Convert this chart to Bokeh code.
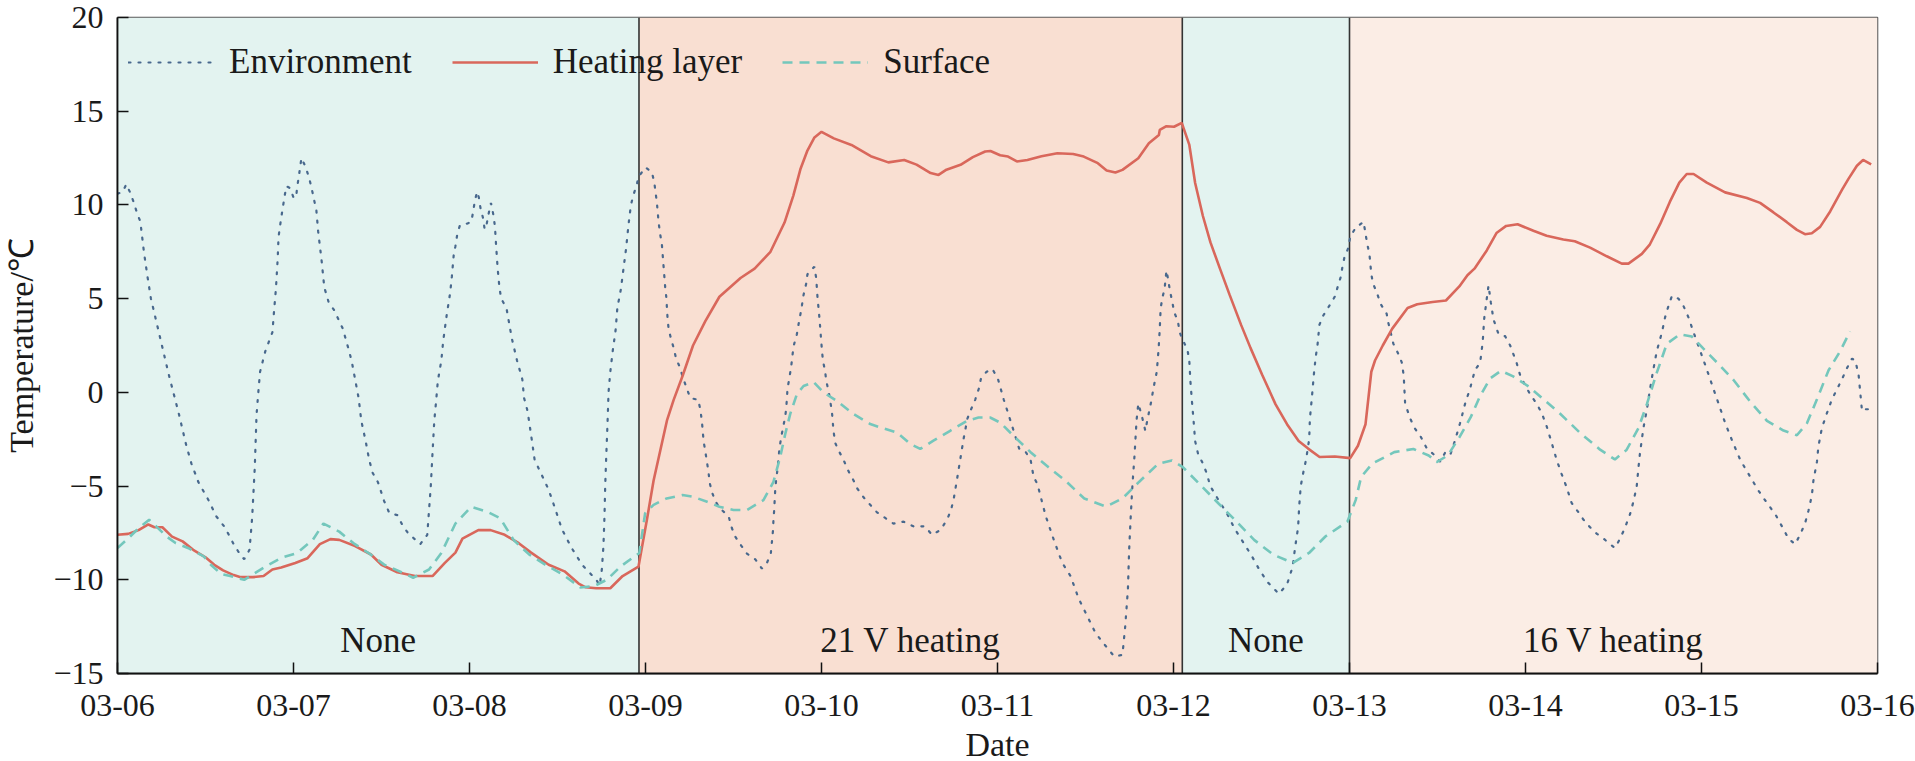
from bokeh.plotting import figure
from bokeh.models import ColumnDataSource, Legend, LegendItem, FixedTicker, Range1d
from bokeh.core.properties import value
from bokeh.embed import file_html
from bokeh.resources import INLINE

# ---------------- data (days since 03-06 00:00) ----------------
env_day = [0.00, 0.03, 0.05, 0.07, 0.09, 0.11, 0.13, 0.15, 0.17, 0.19, 0.21, 0.25, 0.29, 0.32, 0.35, 0.39,
           0.42, 0.46, 0.49, 0.52, 0.56, 0.61, 0.66, 0.70, 0.72, 0.75, 0.765, 0.78, 0.79, 0.80, 0.81, 0.84,
           0.88, 0.89, 0.90, 0.91, 0.915, 0.93, 0.95, 0.96, 0.98, 1.00, 1.015, 1.02, 1.03, 1.045, 1.07, 1.09,
           1.105, 1.13, 1.14, 1.16, 1.175, 1.20, 1.23, 1.28, 1.31, 1.33, 1.35, 1.37, 1.385, 1.41, 1.43, 1.45,
           1.48, 1.515, 1.545, 1.59, 1.62, 1.65, 1.72, 1.76, 1.77, 1.78, 1.79, 1.80, 1.81, 1.82, 1.84, 1.85,
           1.87, 1.89, 1.90, 1.91, 1.92, 1.93, 1.945, 1.96, 2.01, 2.02, 2.03, 2.043, 2.053, 2.063, 2.077, 2.086,
           2.098, 2.108, 2.122, 2.127, 2.137, 2.145, 2.15, 2.16, 2.17, 2.18, 2.21, 2.24, 2.27, 2.30, 2.31, 2.33,
           2.355, 2.37, 2.40, 2.45, 2.49, 2.525, 2.58, 2.64, 2.68, 2.72, 2.74, 2.752, 2.761, 2.767, 2.771, 2.777,
           2.784, 2.79, 2.80, 2.815, 2.83, 2.84, 2.86, 2.875, 2.89, 2.903, 2.917, 2.932, 2.951, 2.96, 3.00, 3.036,
           3.05, 3.065, 3.074, 3.084, 3.093, 3.102, 3.112, 3.118, 3.125, 3.131, 3.144, 3.159, 3.174, 3.197, 3.212, 3.235,
           3.254, 3.30, 3.311, 3.32, 3.33, 3.339, 3.349, 3.358, 3.364, 3.377, 3.396, 3.424, 3.472, 3.491, 3.51, 3.538,
           3.576, 3.623, 3.661, 3.69, 3.712, 3.718, 3.724, 3.727, 3.731, 3.737, 3.742, 3.75, 3.761, 3.771, 3.781, 3.794,
           3.80, 3.807, 3.818, 3.828, 3.841, 3.86, 3.869, 3.879, 3.889, 3.898, 3.913, 3.92, 3.959, 3.97, 3.977, 3.983,
           3.989, 3.997, 4.002, 4.008, 4.021, 4.027, 4.04, 4.05, 4.059, 4.068, 4.078, 4.097, 4.125, 4.153, 4.182, 4.201,
           4.239, 4.277, 4.315, 4.362, 4.409, 4.466, 4.523, 4.589, 4.627, 4.675, 4.713, 4.735, 4.75, 4.769, 4.788, 4.807,
           4.829, 4.85, 4.873, 4.894, 4.905, 4.938, 4.971, 5.003, 5.036, 5.053, 5.09, 5.123, 5.155, 5.188, 5.205, 5.227,
           5.274, 5.321, 5.368, 5.415, 5.461, 5.508, 5.555, 5.586, 5.664, 5.71, 5.726, 5.741, 5.748, 5.757, 5.767, 5.779,
           5.79, 5.80, 5.82, 5.84, 5.851, 5.862, 5.873, 5.884, 5.894, 5.905, 5.916, 5.922, 5.927, 5.938, 5.949, 5.96,
           5.97, 5.981, 5.992, 6.003, 6.025, 6.035, 6.057, 6.079, 6.09, 6.096, 6.105, 6.114, 6.123, 6.14, 6.167, 6.188,
           6.209, 6.256, 6.303, 6.349, 6.396, 6.443, 6.49, 6.537, 6.599, 6.645, 6.677, 6.692, 6.708, 6.714, 6.723, 6.739,
           6.753, 6.771, 6.775, 6.786, 6.797, 6.808, 6.818, 6.829, 6.851, 6.884, 6.916, 6.932, 6.95, 6.96, 6.971, 6.993,
           7.004, 7.036, 7.08, 7.101, 7.113, 7.124, 7.134, 7.156, 7.178, 7.211, 7.221, 7.249, 7.275, 7.297, 7.308, 7.316,
           7.345, 7.373, 7.401, 7.44, 7.477, 7.515, 7.544, 7.572, 7.60, 7.628, 7.657, 7.685, 7.713, 7.742, 7.757, 7.765,
           7.777, 7.79, 7.803, 7.818, 7.847, 7.884, 7.913, 7.95, 7.97, 7.997, 8.026, 8.063, 8.092, 8.12, 8.149, 8.177,
           8.205, 8.235, 8.262, 8.301, 8.33, 8.367, 8.406, 8.443, 8.481, 8.508, 8.538, 8.566, 8.594, 8.614, 8.632, 8.642,
           8.651, 8.67, 8.69, 8.707, 8.726, 8.746, 8.775, 8.793, 8.812, 8.832, 8.869, 8.898, 8.926, 8.955, 8.993, 9.031,
           9.069, 9.097, 9.135, 9.173, 9.22, 9.267, 9.324, 9.372, 9.419, 9.466, 9.494, 9.532, 9.56, 9.588, 9.608, 9.627,
           9.636, 9.656, 9.664, 9.684, 9.713, 9.74, 9.769, 9.798, 9.827, 9.855, 9.874, 9.893, 9.912, 9.931, 9.949]
env_val = [10.6, 10.7, 11.1, 10.7, 10.2, 9.6, 9.1, 7.5, 6.2, 5.0, 4.2, 2.6, 1.0, -0.1, -1.2, -2.8,
           -3.8, -4.8, -5.3, -5.8, -6.6, -7.2, -8.1, -8.7, -8.9, -8.4, -6.7, -4.0, -1.2, 0.0, 1.1, 2.2,
           3.2, 4.4, 5.5, 7.1, 8.3, 9.3, 10.5, 11.0, 10.9, 10.4, 10.4, 10.9, 11.5, 12.5, 12.0, 11.4,
           10.8, 9.7, 8.6, 7.0, 5.6, 4.8, 4.4, 3.4, 2.4, 1.7, 0.7, -0.3, -1.5, -2.6, -3.6, -4.3,
           -4.8, -5.8, -6.45, -6.55, -7.1, -7.5, -8.1, -7.6, -6.3, -5.0, -3.2, -1.5, -0.5, 0.6, 1.7, 2.7,
           4.1, 5.3, 6.2, 7.3, 7.8, 8.4, 8.9, 8.9, 9.1, 9.6, 10.2, 10.7, 10.4, 9.8, 9.3, 8.7,
           9.0, 9.5, 10.1, 9.9, 9.4, 8.8, 8.0, 6.6, 5.6, 5.0, 4.5, 2.9, 1.7, 0.7, -0.3, -1.0,
           -2.6, -3.6, -4.2, -5.2, -6.3, -7.3, -8.3, -9.2, -9.6, -10.0, -10.3, -9.45, -8.2, -6.6, -5.0, -3.4,
           -1.7, 0.0, 1.1, 2.3, 3.3, 4.5, 5.5, 6.6, 7.7, 8.9, 10.0, 10.55, 11.1, 11.5, 12.0, 11.75,
           11.2, 10.1, 9.1, 8.4, 7.9, 6.8, 5.6, 5.1, 4.0, 3.4, 2.9, 2.4, 1.8, 1.3, 0.8, 0.2,
           -0.3, -0.4, -0.9, -1.5, -2.6, -3.1, -3.7, -4.25, -4.8, -5.3, -5.8, -6.2, -6.6, -7.25, -7.7, -8.1,
           -8.6, -8.9, -9.4, -9.1, -8.6, -8.0, -7.4, -6.8, -6.3, -5.2, -4.7, -4.1, -3.0, -2.4, -1.9, -1.3,
           -0.8, 0.2, 0.8, 1.4, 2.45, 3.1, 3.6, 4.1, 4.65, 5.2, 5.8, 6.3, 6.7, 6.1, 5.1, 4.5,
           3.9, 2.9, 2.3, 1.7, 1.1, 0.6, 0.1, -0.5, -1.0, -2.05, -2.7, -3.1, -3.6, -4.2, -4.7, -5.1,
           -5.6, -6.0, -6.4, -6.7, -7.0, -6.9, -7.15, -7.15, -7.6, -7.35, -6.8, -6.3, -5.75, -4.7, -3.6, -2.5,
           -1.4, -0.9, -0.4, 0.2, 0.7, 1.1, 1.25, 0.7, -0.4, -0.9, -2.0, -3.0, -3.1, -3.6, -4.5, -4.9,
           -6.6, -7.9, -9.1, -9.8, -11.0, -11.9, -12.8, -13.2, -14.1, -14.0, -12.45, -10.5, -8.4, -6.6, -4.9, -3.3,
           -1.5, -0.6, -1.25, -2.05, -1.5, -1.0, -0.5, 0.1, 0.6, 1.1, 2.4, 3.4, 4.5, 5.1, 5.5, 6.5,
           6.0, 5.35, 4.9, 4.3, 3.8, 3.2, 2.7, 2.3, 1.65, 0.6, -0.5, -1.5, -2.6, -3.3, -3.8, -4.3,
           -5.0, -5.75, -6.45, -7.3, -8.0, -8.7, -9.5, -10.15, -10.75, -10.25, -9.3, -8.2, -7.2, -6.1, -5.0, -4.2,
           -3.6, -2.5, -1.4, -0.3, 0.9, 1.9, 2.5, 3.6, 4.1, 4.6, 5.1, 5.6, 6.15, 6.7, 7.2, 7.7,
           8.3, 8.8, 9.1, 7.9, 7.4, 6.3, 5.8, 5.3, 4.7, 4.2, 3.7, 2.6, 2.1, 1.6, 0.9, -0.6,
           -1.4, -1.95, -2.3, -3.0, -3.3, -3.7, -3.2, -3.35, -2.55, -1.65, -0.6, 0.2, 1.2, 1.56, 2.7, 3.9,
           4.8, 5.7, 4.8, 3.9, 3.1, 3.0, 2.5, 1.56, 0.9, 0.4, -0.1, -0.6, -1.1, -1.8, -2.7, -3.6,
           -4.35, -5.1, -5.9, -6.4, -6.8, -7.2, -7.55, -7.8, -8.1, -8.3, -7.8, -7.2, -6.5, -5.8, -5.0, -4.0,
           -3.2, -1.9, -0.9, 0.15, 1.2, 2.2, 3.2, 4.0, 4.6, 5.15, 5.0, 4.6, 4.0, 3.2, 2.2, 1.2,
           0.15, -0.6, -1.65, -2.55, -3.6, -4.35, -5.25, -5.9, -6.5, -7.3, -7.8, -8.1, -7.6, -7.0, -6.3, -5.5,
           -4.7, -3.7, -2.9, -1.9, -1.1, -0.4, 0.15, 0.7, 1.3, 1.8, 1.7, 0.9, -1.0, -0.9, -0.9]

heat_day = [0.00, 0.06, 0.12, 0.175, 0.21, 0.255, 0.31, 0.37, 0.43, 0.50, 0.55, 0.60, 0.66, 0.70, 0.77, 0.83,
            0.88, 0.93, 1.01, 1.08, 1.15, 1.21, 1.26, 1.35, 1.44, 1.50, 1.59, 1.69, 1.79, 1.86, 1.92, 1.96,
            2.05, 2.12, 2.20, 2.28, 2.35, 2.45, 2.54, 2.62, 2.66, 2.72, 2.80, 2.87, 2.96, 3.008, 3.046, 3.084,
            3.122, 3.16, 3.21, 3.27, 3.34, 3.42, 3.54, 3.62, 3.71, 3.79, 3.84, 3.88, 3.92, 3.96, 4.00, 4.07,
            4.17, 4.28, 4.38, 4.47, 4.54, 4.62, 4.665, 4.71, 4.79, 4.86, 4.93, 4.96, 5.015, 5.06, 5.11, 5.17,
            5.25, 5.34, 5.43, 5.49, 5.57, 5.62, 5.67, 5.71, 5.80, 5.86, 5.917, 5.922, 5.96, 6.003, 6.047, 6.09,
            6.123, 6.167, 6.21, 6.264, 6.319, 6.384, 6.438, 6.503, 6.58, 6.645, 6.711, 6.765, 6.83, 6.917, 7.004, 7.048,
            7.091, 7.124, 7.145, 7.189, 7.243, 7.33, 7.385, 7.472, 7.548, 7.624, 7.67, 7.71, 7.78, 7.835, 7.89, 7.955,
            8.045, 8.12, 8.215, 8.28, 8.367, 8.462, 8.547, 8.585, 8.661, 8.707, 8.766, 8.82, 8.874, 8.916, 8.955, 9.03,
            9.134, 9.258, 9.333, 9.409, 9.485, 9.542, 9.588, 9.627, 9.674, 9.731, 9.798, 9.835, 9.883, 9.918, 9.964]
heat_val = [-7.6, -7.55, -7.35, -7.05, -7.2, -7.2, -7.7, -7.95, -8.4, -8.8, -9.2, -9.5, -9.75, -9.86, -9.86, -9.8,
            -9.45, -9.35, -9.1, -8.85, -8.1, -7.83, -7.87, -8.2, -8.65, -9.2, -9.6, -9.8, -9.8, -9.1, -8.55, -7.8,
            -7.35, -7.35, -7.6, -8.05, -8.55, -9.2, -9.55, -10.2, -10.4, -10.45, -10.45, -9.8, -9.3, -6.8, -4.7, -3.1,
            -1.5, -0.4, 0.86, 2.5, 3.8, 5.1, 6.1, 6.6, 7.5, 9.06, 10.5, 11.9, 12.9, 13.6, 13.9, 13.55,
            13.2, 12.6, 12.27, 12.4, 12.15, 11.7, 11.6, 11.88, 12.14, 12.55, 12.85, 12.88, 12.65, 12.58, 12.32, 12.4,
            12.6, 12.76, 12.72, 12.58, 12.23, 11.84, 11.73, 11.87, 12.49, 13.29, 13.73, 14.0, 14.2, 14.17, 14.38, 13.2,
            11.17, 9.41, 8.0, 6.6, 5.2, 3.6, 2.36, 0.95, -0.64, -1.7, -2.6, -3.0, -3.45, -3.42, -3.51, -2.85,
            -1.7, 1.1, 1.7, 2.5, 3.4, 4.5, 4.7, 4.82, 4.9, 5.65, 6.25, 6.6, 7.57, 8.5, 8.88, 8.97,
            8.62, 8.36, 8.16, 8.06, 7.72, 7.26, 6.87, 6.87, 7.39, 7.9, 9.0, 10.16, 11.19, 11.65, 11.65, 11.19,
            10.67, 10.37, 10.11, 9.6, 9.08, 8.67, 8.44, 8.49, 8.83, 9.65, 10.8, 11.39, 12.09, 12.4, 12.16]

surf_day = [0.00, 0.06, 0.12, 0.18, 0.22, 0.28, 0.33, 0.40, 0.49, 0.53, 0.59, 0.64, 0.72, 0.83, 0.93, 1.02,
            1.11, 1.17, 1.26, 1.34, 1.44, 1.515, 1.60, 1.68, 1.77, 1.84, 1.92, 2.01, 2.10, 2.175, 2.25, 2.34,
            2.43, 2.53, 2.63, 2.71, 2.78, 2.86, 2.965, 2.998, 3.046, 3.12, 3.21, 3.27, 3.35, 3.42, 3.50, 3.576,
            3.67, 3.727, 3.765, 3.794, 3.822, 3.86, 3.898, 3.955, 4.011, 4.087, 4.182, 4.277, 4.333, 4.428, 4.504, 4.561,
            4.636, 4.731, 4.826, 4.892, 4.958, 5.015, 5.10, 5.188, 5.29, 5.384, 5.493, 5.617, 5.71, 5.804, 5.913, 5.99,
            6.053, 6.146, 6.256, 6.349, 6.458, 6.567, 6.677, 6.77, 6.863, 6.988, 7.035, 7.066, 7.128, 7.254, 7.363, 7.45,
            7.495, 7.558, 7.624, 7.688, 7.742, 7.80, 7.86, 7.93, 8.02, 8.10, 8.197, 8.31, 8.424, 8.508, 8.575, 8.642,
            8.69, 8.746, 8.803, 8.878, 8.945, 9.011, 9.105, 9.182, 9.276, 9.372, 9.466, 9.542, 9.599, 9.656, 9.722, 9.788,
            9.844]
surf_val = [-8.3, -7.8, -7.25, -6.8, -7.15, -7.7, -8.04, -8.3, -8.75, -9.2, -9.7, -9.8, -10.0, -9.36, -8.83, -8.57,
            -7.87, -7.0, -7.43, -8.04, -8.66, -9.19, -9.54, -9.89, -9.45, -8.57, -7.0, -6.1, -6.37, -6.72, -7.87, -8.66,
            -9.19, -9.72, -10.41, -10.33, -10.0, -9.28, -8.57, -6.45, -6.0, -5.66, -5.48, -5.57, -5.84, -6.1, -6.28, -6.28,
            -5.75, -4.78, -3.46, -2.22, -1.16, -0.1, 0.34, 0.55, 0.0, -0.46, -1.16, -1.69, -1.87, -2.14, -2.75, -3.02,
            -2.58, -2.05, -1.52, -1.34, -1.34, -1.61, -2.4, -3.19, -4.0, -4.7, -5.66, -6.1, -5.66, -4.78, -3.81, -3.63,
            -3.99, -4.87, -5.93, -6.81, -7.87, -8.66, -9.1, -8.57, -7.69, -6.9, -5.75, -4.52, -3.81, -3.19, -3.02, -3.37,
            -3.72, -3.37, -2.4, -1.34, -0.2, 0.75, 1.15, 0.85, 0.3, -0.35, -1.14, -2.16, -3.06, -3.58, -3.06, -1.9,
            -0.62, 1.05, 2.59, 3.1, 2.98, 2.33, 1.43, 0.66, -0.49, -1.52, -2.04, -2.29, -1.65, -0.37, 1.18, 2.2,
            3.25]

region_start = [0.0, 2.963, 6.05, 7.0]
region_end = [2.963, 6.05, 7.0, 10.0]
region_names = ["None", "21 V heating", "None", "16 V heating"]
region_colors = ["#e3f3f0", "#f9dfd2", "#e3f3f0", "#fbede5"]
boundary_days = [2.963, 6.05, 7.0]

x_ticks = list(range(0, 11))
x_tick_labels = ["03-06", "03-07", "03-08", "03-09", "03-10", "03-11", "03-12", "03-13", "03-14", "03-15", "03-16"]
y_ticks = [-15, -10, -5, 0, 5, 10, 15, 20]
y_tick_labels = ["\u221215", "\u221210", "\u22125", "0", "5", "10", "15", "20"]

series_names = ["Environment", "Heating layer", "Surface"]

# ---------------- figure ----------------
FONT = "Liberation Serif"
X0, X1, Y0, Y1 = 0, 10, -15, 20
FRAME_W, FRAME_H = 1760, 656

p = figure(output_backend="svg", toolbar_location=None,
           frame_width=FRAME_W, frame_height=FRAME_H,
           x_range=Range1d(X0, X1), y_range=Range1d(Y0, Y1),
           min_border_left=117, min_border_right=38, min_border_top=17, min_border_bottom=88,
           background_fill_color="white", border_fill_color="white")
p.grid.visible = False
p.outline_line_color = "#5a5a5a"
p.outline_line_width = 1.6

# shaded regions
reg = ColumnDataSource(dict(left=region_start, right=region_end, color=region_colors,
                            name=region_names,
                            mid=[(a + b) / 2 for a, b in zip(region_start, region_end)]))
p.quad(left="left", right="right", bottom=Y0, top=Y1, fill_color="color", line_color=None, source=reg)

# boundary lines
p.segment(x0=boundary_days, x1=boundary_days, y0=[Y0] * 3, y1=[Y1] * 3,
          line_color="#333333", line_width=1.6)

# series
r_env = p.line(env_day, env_val, line_color="#48688d", line_width=2.2, line_dash="2 8",
               line_cap="round")
r_heat = p.line(heat_day, heat_val, line_color="#d9675b", line_width=2.6)
r_surf = p.line(surf_day, surf_val, line_color="#74c7bc", line_width=2.6, line_dash="10 7")

# region labels
p.text(x="mid", y=-13.25, text="name", source=reg, text_font=value(FONT), text_font_size="35px",
       text_align="center", text_baseline="middle", text_color="#1a1a1a")

# legend
legend = Legend(items=[LegendItem(label=series_names[0], renderers=[r_env]),
                       LegendItem(label=series_names[1], renderers=[r_heat]),
                       LegendItem(label=series_names[2], renderers=[r_surf])],
                orientation="horizontal", location=(6, FRAME_H - 70),
                label_text_font=FONT, label_text_font_size="35px", label_text_color="#1a1a1a",
                glyph_width=86, glyph_height=30, label_height=30, label_standoff=15, spacing=40,
                padding=5, margin=0, background_fill_alpha=0, border_line_alpha=0)
p.add_layout(legend)

# axes
for ax in (p.xaxis[0], p.yaxis[0]):
    ax.axis_line_color = "#111111"
    ax.axis_line_width = 1.8
    ax.major_tick_line_color = "#111111"
    ax.major_tick_line_width = 1.5
    ax.major_tick_in = 11
    ax.major_tick_out = 0
    ax.minor_tick_line_color = None
    ax.major_label_text_font = FONT
    ax.major_label_text_font_size = "32px"
    ax.major_label_text_color = "#1a1a1a"
    ax.axis_label_text_font = FONT
    ax.axis_label_text_font_size = "34px"
    ax.axis_label_text_font_style = "normal"
    ax.axis_label_text_color = "#1a1a1a"

p.xaxis.ticker = FixedTicker(ticks=x_ticks)
p.xaxis.major_label_overrides = {t: l for t, l in zip(x_ticks, x_tick_labels)}
p.xaxis.axis_label = "Date"
p.xaxis.major_label_standoff = 21
p.xaxis.axis_label_standoff = 7

p.yaxis.ticker = FixedTicker(ticks=y_ticks)
p.yaxis.major_label_overrides = {t: l for t, l in zip(y_ticks, y_tick_labels)}
p.yaxis.axis_label = "Temperature/\u2103"
p.yaxis.major_label_standoff = 14
p.yaxis.axis_label_standoff = 10

open("out.html", "w").write(file_html(p, INLINE))
